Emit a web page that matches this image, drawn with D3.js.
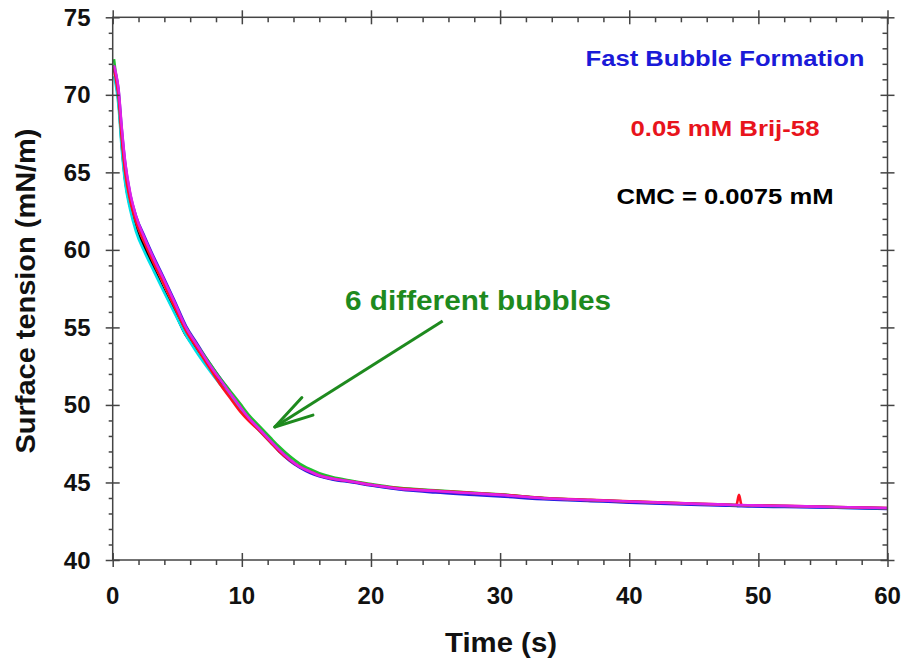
<!DOCTYPE html>
<html>
<head>
<meta charset="utf-8">
<script src="https://cdn.jsdelivr.net/npm/d3@7"></script>
<style>
  html, body { margin: 0; padding: 0; background: #fff; }
  svg { display: block; }
  text { font-family: "Liberation Sans", Arial, Helvetica, sans-serif; font-weight: bold; }
</style>
</head>
<body>
<svg id="chart" width="903" height="665"></svg>
<script>
// ---- data ----
const time = [0.1,0.25,0.45,0.7,0.95,1.35,1.8,2.5,3.2,3.9,4.8,5.7,6.5,7.3,8.3,9.1,9.9,10.5,11.4,12.2,12.9,13.7,14.5,15.3,16.0,17.0,18.6,20.0,22.2,25,28,30,33.8,37,40,45.4,47.5,48.3,48.5,48.7,49.5,52,56,60];

const bubbleBlack   = [71.9,70.9,69.6,66.8,64.6,62.8,61.4,60.1,58.8,57.5,56.0,54.45,53.6,52.75,51.55,50.65,49.85,49.1,48.4,47.7,47.1,46.5,46.0,45.7,45.45,45.25,45.05,44.85,44.6,44.45,44.3,44.2,43.95,43.85,43.75,43.6,43.55,43.53,43.52,43.52,43.5,43.47,43.4,43.33];
const bubbleCyan    = [71.2,70.6,69.3,66.5,64.4,62.6,61.2,59.8,58.6,57.4,55.9,54.45,53.4,52.45,51.35,50.55,49.75,49.1,48.3,47.6,47.0,46.45,45.98,45.68,45.43,45.23,45.03,44.83,44.58,44.43,44.28,44.18,43.93,43.83,43.73,43.58,43.53,43.51,43.5,43.5,43.48,43.45,43.38,43.31];
const bubbleBlue    = [71.6,71.3,70.3,67.8,65.7,63.6,62.2,60.8,59.5,58.3,56.7,55.05,54.0,52.95,51.75,50.85,49.95,49.2,48.4,47.7,47.0,46.4,45.95,45.6,45.4,45.2,45.0,44.8,44.55,44.35,44.2,44.1,43.9,43.8,43.7,43.55,43.5,43.48,43.47,43.47,43.45,43.42,43.37,43.3];
const bubbleGreen   = [72.3,71.3,70.1,67.4,65.3,63.4,62.0,60.6,59.3,58.1,56.5,54.95,53.9,52.95,51.75,50.9,50.05,49.4,48.6,47.9,47.3,46.7,46.2,45.85,45.6,45.35,45.1,44.9,44.65,44.5,44.33,44.23,43.98,43.87,43.77,43.62,43.56,43.54,43.53,43.53,43.51,43.48,43.41,43.34];
const bubbleRed     = [71.8,71.0,69.9,67.2,65.1,63.2,61.8,60.4,59.1,57.9,56.3,54.75,53.7,52.65,51.35,50.45,49.55,49.0,48.3,47.6,47.0,46.45,46.0,45.7,45.45,45.25,45.05,44.85,44.62,44.47,44.32,44.22,43.98,43.88,43.78,43.63,43.57,43.55,44.2,43.55,43.53,43.5,43.42,43.35];
const bubbleMagenta = [71.9,71.4,70.4,67.9,65.8,63.7,62.2,60.7,59.4,58.2,56.6,54.95,53.9,52.85,51.65,50.75,49.85,49.2,48.4,47.7,47.1,46.5,46.0,45.7,45.45,45.25,45.05,44.85,44.6,44.45,44.3,44.2,43.97,43.87,43.77,43.62,43.57,43.55,43.54,43.54,43.52,43.49,43.42,43.35];

const seriesNames  = ["black","cyan","blue","green","red","magenta"];
const seriesColors = ["#000000","#00e0e8","#2a1ee0","#20c030","#ff1020","#e020e8"];
const seriesValues = [bubbleBlack,bubbleCyan,bubbleBlue,bubbleGreen,bubbleRed,bubbleMagenta];

const xTicks = [0,10,20,30,40,50,60];
const yTicks = [40,45,50,55,60,65,70,75];
const xMinor = [2,4,6,8,12,14,16,18,22,24,26,28,32,34,36,38,42,44,46,48,52,54,56,58];
const yMinor = d3.range(40,76).filter(v => v % 5 !== 0);

const xTitle = "Time (s)";
const yTitle = "Surface tension (mN/m)";
const noteLines = ["Fast Bubble Formation","0.05 mM Brij-58","CMC = 0.0075 mM"];
const noteColors = ["#1a1ad8","#e8141c","#000000"];
const arrowLabel = "6 different bubbles";
const arrowTail = [25.55, 55.42];   // data coords (s, mN/m)
const arrowTip  = [12.55, 48.58];

// ---- layout ----
const svg = d3.select("#chart");
const L = 112.7, R = 887.5, T = 17.3, B = 560;
const x = d3.scaleLinear().domain([0,60]).range([L,R]);
const y = d3.scaleLinear().domain([40,75]).range([B,T]);
const axisColor = "#444";

// ---- curves ----
const line = d3.line().x(d => x(d[0])).y(d => y(d[1])).curve(d3.curveMonotoneX);
seriesValues.forEach((vals,i) => {
  svg.append("path")
    .datum(time.map((t,j) => [t, vals[j]]))
    .attr("fill","none")
    .attr("stroke", seriesColors[i])
    .attr("stroke-width", 2.6)
    .attr("stroke-linejoin","round")
    .attr("d", line);
});

// ---- axes ----
function styleAxis(g){
  g.selectAll(".domain").remove();
  g.selectAll("line").attr("stroke", axisColor).attr("stroke-width", 1.5);
  g.selectAll("text").remove();
}
svg.append("rect").attr("x",L).attr("y",T).attr("width",R-L).attr("height",B-T)
  .attr("fill","none").attr("stroke",axisColor).attr("stroke-width",1.5);

// bottom
svg.append("g").attr("transform",`translate(0,${B})`).call(d3.axisBottom(x).tickValues(xTicks).tickSize(7)).call(styleAxis);
svg.append("g").attr("transform",`translate(0,${B})`).call(d3.axisTop(x).tickValues(xTicks).tickSize(7)).call(styleAxis);
svg.append("g").attr("transform",`translate(0,${B})`).call(d3.axisBottom(x).tickValues(xMinor).tickSize(5)).call(styleAxis);
// top
svg.append("g").attr("transform",`translate(0,${T})`).call(d3.axisBottom(x).tickValues(xTicks).tickSize(7)).call(styleAxis);
svg.append("g").attr("transform",`translate(0,${T})`).call(d3.axisTop(x).tickValues(xTicks).tickSize(7)).call(styleAxis);
svg.append("g").attr("transform",`translate(0,${T})`).call(d3.axisBottom(x).tickValues(xMinor).tickSize(5)).call(styleAxis);
// left
svg.append("g").attr("transform",`translate(${L},0)`).call(d3.axisLeft(y).tickValues(yTicks).tickSize(7)).call(styleAxis);
svg.append("g").attr("transform",`translate(${L},0)`).call(d3.axisRight(y).tickValues(yTicks).tickSize(7)).call(styleAxis);
svg.append("g").attr("transform",`translate(${L},0)`).call(d3.axisLeft(y).tickValues(yMinor).tickSize(4)).call(styleAxis);
// right
svg.append("g").attr("transform",`translate(${R},0)`).call(d3.axisLeft(y).tickValues(yTicks).tickSize(7)).call(styleAxis);
svg.append("g").attr("transform",`translate(${R},0)`).call(d3.axisRight(y).tickValues(yTicks).tickSize(7)).call(styleAxis);
svg.append("g").attr("transform",`translate(${R},0)`).call(d3.axisLeft(y).tickValues(yMinor).tickSize(5)).call(styleAxis);

// tick labels
svg.append("g").selectAll("text").data(xTicks).join("text")
  .attr("x", d => x(d)).attr("y", 604)
  .attr("text-anchor","middle").attr("font-size",24).attr("fill","#111")
  .text(d => d);
svg.append("g").selectAll("text").data(yTicks).join("text")
  .attr("x", 90.5).attr("y", d => y(d) + 8.5)
  .attr("text-anchor","end").attr("font-size",24).attr("fill","#111")
  .text(d => d);

// axis titles
svg.append("text").attr("x",501).attr("y",652).attr("text-anchor","middle")
  .attr("font-size",28).attr("fill","#111")
  .attr("textLength",112).attr("lengthAdjust","spacingAndGlyphs").text(xTitle);
svg.append("text").attr("transform","translate(35,291) rotate(-90)").attr("text-anchor","middle")
  .attr("font-size",28).attr("fill","#111")
  .attr("textLength",325).attr("lengthAdjust","spacingAndGlyphs").text(yTitle);

// notes
const noteY = [66,136,204];
const noteW = [279,189,217];
noteLines.forEach((s,i) => {
  svg.append("text").attr("x",725).attr("y",noteY[i]).attr("text-anchor","middle")
    .attr("font-size",22).attr("fill",noteColors[i])
    .attr("textLength",noteW[i]).attr("lengthAdjust","spacingAndGlyphs").text(s);
});

// arrow annotation
const green = "#1e8a1e";
const tx = x(arrowTip[0]), ty = y(arrowTip[1]);
const sx = x(arrowTail[0]), sy = y(arrowTail[1]);
svg.append("line").attr("x1",sx).attr("y1",sy).attr("x2",tx).attr("y2",ty)
  .attr("stroke",green).attr("stroke-width",3);
const ang = Math.atan2(sy-ty, sx-tx);
const hl = 40, ha = 15*Math.PI/180;
[ang-ha, ang+ha].forEach(a => {
  svg.append("line").attr("x1",tx).attr("y1",ty)
    .attr("x2",tx+hl*Math.cos(a)).attr("y2",ty+hl*Math.sin(a))
    .attr("stroke",green).attr("stroke-width",3).attr("stroke-linecap","round");
});
svg.append("text").attr("x",478).attr("y",310).attr("text-anchor","middle")
  .attr("font-size",27).attr("fill",green)
  .attr("textLength",266).attr("lengthAdjust","spacingAndGlyphs").text(arrowLabel);
</script>
</body>
</html>
